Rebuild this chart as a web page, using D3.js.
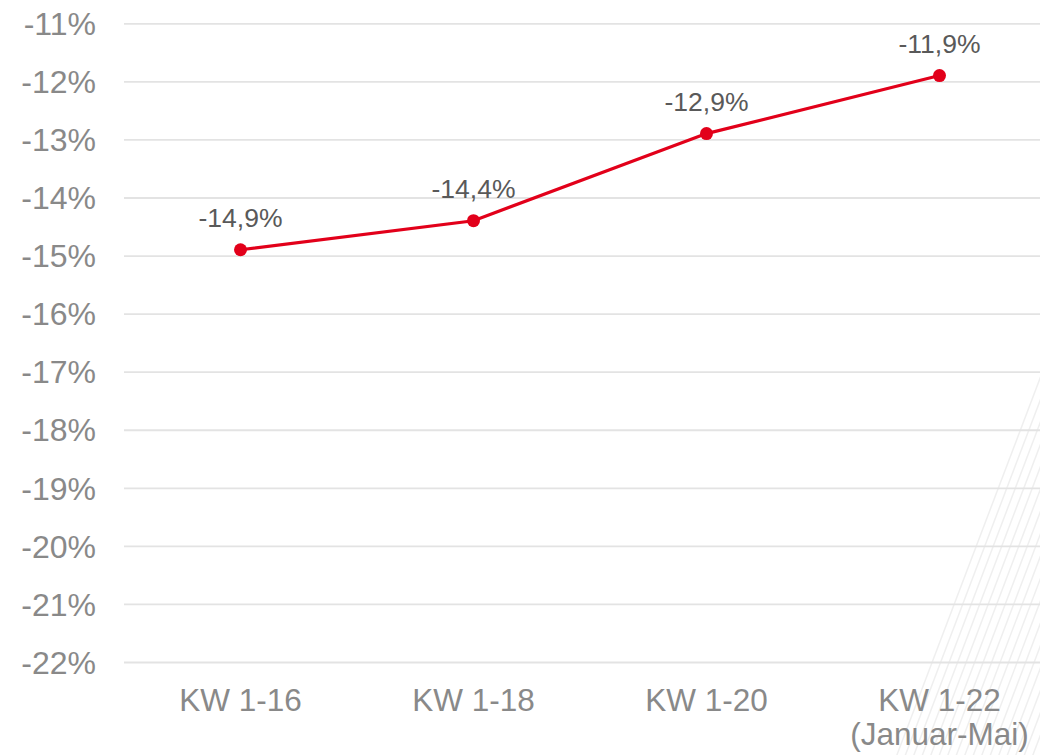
<!DOCTYPE html>
<html><head><meta charset="utf-8">
<script src="https://cdn.jsdelivr.net/npm/d3@7"></script>
<style>body{margin:0;background:#fff}svg{display:block}</style>
</head><body>
<svg id="c" width="1040" height="755"></svg>
<script>
const categories = ["KW 1-16", "KW 1-18", "KW 1-20", "KW 1-22|(Januar-Mai)"];
const values = [-14.9, -14.4, -12.9, -11.9];
const valueLabels = ["-14,9%", "-14,4%", "-12,9%", "-11,9%"];
const yTicks = [-11, -12, -13, -14, -15, -16, -17, -18, -19, -20, -21, -22];
const yTickLabels = ["-11%", "-12%", "-13%", "-14%", "-15%", "-16%", "-17%", "-18%", "-19%", "-20%", "-21%", "-22%"];

const svg = d3.select("#c");
const W = 1040, H = 755;
const mLeft = 124, mRight = 1056, mTop = 23.3, mBottom = 662;
const FONT = "Liberation Sans, Arial, sans-serif";

// decorative hatch lines (bottom right)
const hatch = svg.append("g");
d3.range(0, 19).forEach(k => {
  const x0 = 895 + k * 8.5;
  hatch.append("line")
    .attr("x1", x0).attr("y1", 760)
    .attr("x2", x0 + 0.38 * 400).attr("y2", 360)
    .attr("stroke", "#efefef").attr("stroke-width", 1.5);
});

const x = d3.scaleBand().domain(categories).range([mLeft, mRight]);
const y = d3.scaleLinear().domain([-22, -11]).range([mBottom, mTop]);

// gridlines
const yAxis = d3.axisLeft(y).tickValues(yTicks).tickSize(-(W - mLeft)).tickFormat((d, i) => yTickLabels[i]);
const gy = svg.append("g").attr("transform", `translate(${mLeft},0)`).call(yAxis);
gy.select(".domain").remove();
gy.selectAll(".tick line").attr("stroke", "#e3e3e3").attr("stroke-width", 1.8);
gy.selectAll(".tick text").attr("x", -28).attr("dy", "0.35em")
  .attr("fill", "#898989").attr("font-family", FONT).attr("font-size", 32);

// x axis labels
const xAxis = d3.axisBottom(x).tickSize(0).tickFormat(() => "");
const gx = svg.append("g").attr("transform", `translate(0,${mBottom})`).call(xAxis);
gx.select(".domain").remove();
gx.selectAll(".tick").each(function(d) {
  const t = d3.select(this).append("text")
    .attr("fill", "#898989").attr("font-family", FONT)
    .attr("font-size", 31.5).attr("text-anchor", "middle");
  d.split("|").forEach((s, i) => {
    t.append("tspan").attr("x", 0).attr("y", 49 + i * 34).text(s);
  });
});

// line
const line = d3.line().x((d, i) => x(categories[i]) + x.bandwidth() / 2).y(d => y(d));
svg.append("path").datum(values).attr("d", line)
  .attr("fill", "none").attr("stroke", "#e2001a").attr("stroke-width", 3.2);

svg.selectAll("circle.pt").data(values).join("circle").attr("class","pt")
  .attr("cx", (d, i) => x(categories[i]) + x.bandwidth() / 2)
  .attr("cy", d => y(d)).attr("r", 6.5).attr("fill", "#e2001a");

svg.selectAll("text.lbl").data(values).join("text").attr("class","lbl")
  .attr("x", (d, i) => x(categories[i]) + x.bandwidth() / 2)
  .attr("y", d => y(d) - 23)
  .attr("text-anchor", "middle").attr("fill", "#595959")
  .attr("font-family", FONT).attr("font-size", 26.5)
  .text((d, i) => valueLabels[i]);
</script>
</body></html>
